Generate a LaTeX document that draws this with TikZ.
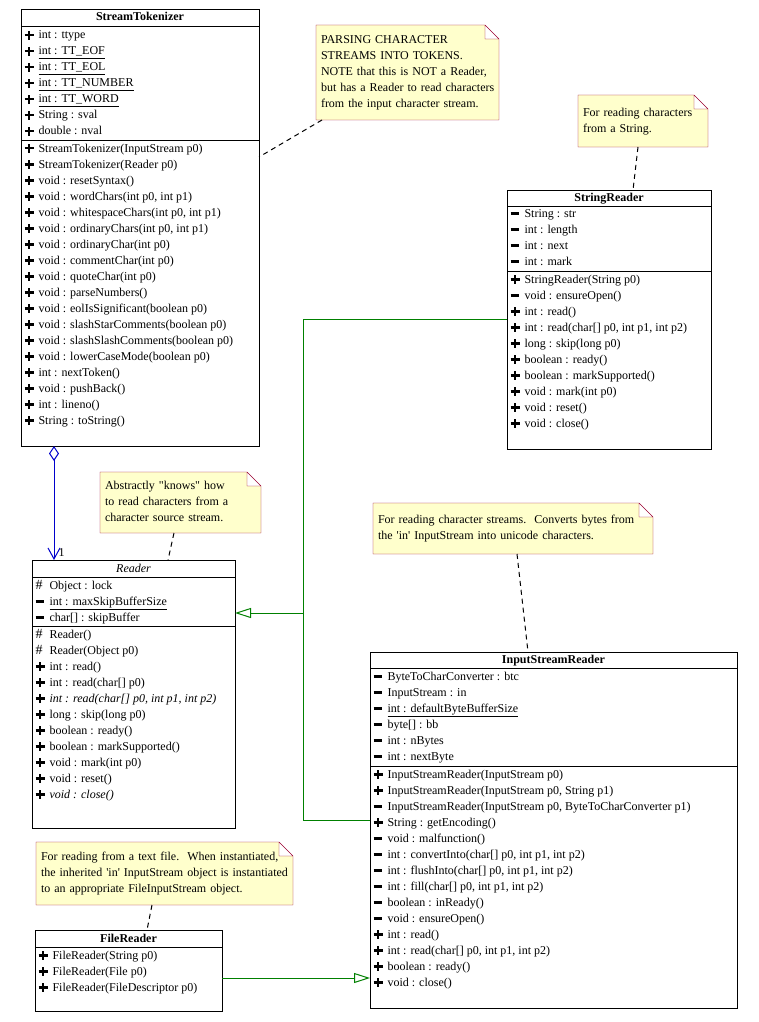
\documentclass[tikz,border=0pt]{standalone}
\usepackage{fontspec}
\setmainfont{Liberation Serif}
\usetikzlibrary{arrows.meta,backgrounds}
\definecolor{notefill}{RGB}{255,255,204}
\definecolor{noteline}{RGB}{153,0,51}
\definecolor{genline}{RGB}{0,128,0}
\definecolor{aggline}{RGB}{0,0,204}
% visibility marks
\newcommand\vpub{\makebox[14pt][l]{\rlap{\rule[2.5pt]{9pt}{2.2pt}}\hspace{3.4pt}\rule[-0.9pt]{2.2pt}{9pt}}}
\newcommand\vpriv{\makebox[14pt][l]{\rule[2.5pt]{8pt}{2.2pt}}}
\newcommand\vprot{\makebox[14pt][l]{\fontsize{14}{16}\selectfont\#}}
\newcommand\notelines[1]{\begin{tabular}{@{}l@{}}#1\end{tabular}}
\begin{document}
\begin{tikzpicture}[x=1pt, y=-1pt, line width=1pt, font=\fontsize{12}{16}\selectfont,
    cls/.style={draw, anchor=north west, inner sep=0, outer sep=0},
    title/.style={inner sep=0, text height=9pt, text depth=3pt, font=\fontsize{12}{16}\selectfont\bfseries},
    member/.style={anchor=west, inner sep=0, text height=9pt, text depth=3pt},
    note/.style={anchor=north west, inner xsep=5pt, inner ysep=0, outer sep=0, align=left},
    notebox/.style={draw=noteline, fill=notefill},
    link/.style={dash pattern=on 5pt off 4pt},
    inherit/.style={draw=genline},
    agg/.style={draw=aggline}]
  \useasboundingbox (0,0) rectangle (758,1022);

  % StreamTokenizer
  \node[cls, minimum width=238pt, minimum height=436pt] (tok) at (21,10) {};
  \node[title] at (tok.north |- 0,18) {StreamTokenizer};
  \foreach \y in {27,140} \draw (tok.west |- 0,\y) -- (tok.east |- 0,\y);
  \foreach \vis/\txt [count=\i from 0] in {pub/int : ttype, pub/\underline{int : TT\_EOF},
      pub/\underline{int : TT\_EOL}, pub/\underline{int : TT\_NUMBER}, pub/\underline{int : TT\_WORD},
      pub/String : sval, pub/double : nval}
    \node[member] at (24,{36+16*\i}) {\csname v\vis\endcsname\txt};
  \foreach \vis/\txt [count=\i from 0] in {pub/StreamTokenizer(InputStream p0), pub/StreamTokenizer(Reader p0),
      pub/void : resetSyntax(), pub/{void : wordChars(int p0, int p1)}, pub/{void : whitespaceChars(int p0, int p1)},
      pub/{void : ordinaryChars(int p0, int p1)}, pub/void : ordinaryChar(int p0), pub/void : commentChar(int p0),
      pub/void : quoteChar(int p0), pub/void : parseNumbers(), pub/void : eolIsSignificant(boolean p0),
      pub/void : slashStarComments(boolean p0), pub/void : slashSlashComments(boolean p0),
      pub/void : lowerCaseMode(boolean p0), pub/int : nextToken(), pub/void : pushBack(),
      pub/int : lineno(), pub/String : toString()}
    \node[member] at (24,{149+16*\i}) {\csname v\vis\endcsname\txt};

  % StringReader
  \node[cls, minimum width=204pt, minimum height=259pt] (sr) at (507,190) {};
  \node[title] at (sr.north |- 0,198) {StringReader};
  \foreach \y in {206,271} \draw (sr.west |- 0,\y) -- (sr.east |- 0,\y);
  \foreach \vis/\txt [count=\i from 0] in {priv/String : str, priv/int : length, priv/int : next, priv/int : mark}
    \node[member] at (510,{214+16*\i}) {\csname v\vis\endcsname\txt};
  \foreach \vis/\txt [count=\i from 0] in {pub/StringReader(String p0), priv/void : ensureOpen(), pub/int : read(),
      pub/{int : read(char[] p0, int p1, int p2)}, pub/long : skip(long p0), pub/boolean : ready(),
      pub/boolean : markSupported(), pub/void : mark(int p0), pub/void : reset(), pub/void : close()}
    \node[member] at (510,{280+16*\i}) {\csname v\vis\endcsname\txt};

  % Reader
  \node[cls, minimum width=203pt, minimum height=268pt] (rd) at (32,560) {};
  \node[title, font=\fontsize{12}{16}\selectfont\itshape] at (rd.north |- 0,569) {Reader};
  \foreach \y in {577,626} \draw (rd.west |- 0,\y) -- (rd.east |- 0,\y);
  \foreach \vis/\txt [count=\i from 0] in {prot/Object : lock, priv/\underline{int : maxSkipBufferSize},
      priv/char[] : skipBuffer}
    \node[member] at (35,{586+16*\i}) {\csname v\vis\endcsname\txt};
  \foreach \vis/\txt [count=\i from 0] in {prot/Reader(), prot/Reader(Object p0), pub/int : read(),
      pub/int : read(char[] p0), pub/{\textit{int : read(char[] p0, int p1, int p2)}}, pub/long : skip(long p0),
      pub/boolean : ready(), pub/boolean : markSupported(), pub/void : mark(int p0), pub/void : reset(),
      pub/\textit{void : close()}}
    \node[member] at (35,{635+16*\i}) {\csname v\vis\endcsname\txt};

  % InputStreamReader
  \node[cls, minimum width=367pt, minimum height=356pt] (isr) at (370,652) {};
  \node[title] at (isr.north |- 0,660) {InputStreamReader};
  \foreach \y in {668,766} \draw (isr.west |- 0,\y) -- (isr.east |- 0,\y);
  \foreach \vis/\txt [count=\i from 0] in {priv/ByteToCharConverter : btc, priv/InputStream : in,
      priv/\underline{int : defaultByteBufferSize}, priv/byte[] : bb, priv/int : nBytes, priv/int : nextByte}
    \node[member] at (373,{677+16*\i}) {\csname v\vis\endcsname\txt};
  \foreach \vis/\txt [count=\i from 0] in {pub/InputStreamReader(InputStream p0),
      pub/{InputStreamReader(InputStream p0, String p1)}, priv/{InputStreamReader(InputStream p0, ByteToCharConverter p1)},
      pub/String : getEncoding(), priv/void : malfunction(), priv/{int : convertInto(char[] p0, int p1, int p2)},
      priv/{int : flushInto(char[] p0, int p1, int p2)}, priv/{int : fill(char[] p0, int p1, int p2)},
      priv/boolean : inReady(), priv/void : ensureOpen(), pub/int : read(),
      pub/{int : read(char[] p0, int p1, int p2)}, pub/boolean : ready(), pub/void : close()}
    \node[member] at (373,{775+16*\i}) {\csname v\vis\endcsname\txt};

  % FileReader
  \node[cls, minimum width=187pt, minimum height=81pt] (fr) at (35,930) {};
  \node[title] at (fr.north |- 0,939) {FileReader};
  \draw (fr.west |- 0,947) -- (fr.east |- 0,947);
  \foreach \vis/\txt [count=\i from 0] in {pub/FileReader(String p0), pub/FileReader(File p0),
      pub/FileReader(FileDescriptor p0)}
    \node[member] at (38,{956+16*\i}) {\csname v\vis\endcsname\txt};

  % notes
  \node[note, text width=173pt, minimum height=95pt] (n1) at (316,25) {\notelines{PARSING CHARACTER\\
    STREAMS INTO TOKENS.\\ NOTE that this is NOT a Reader,\\ but has a Reader to read characters\\
    from the input character stream.}};
  \node[note, text width=120pt, minimum height=52pt] (n2) at (578,95) {\notelines{For reading characters\\ from a String.}};
  \node[note, text width=151pt, minimum height=61pt] (n3) at (100,472) {\notelines{Abstractly \textquotedbl knows\textquotedbl{} how\\
    to read characters from a\\ character source stream.}};
  \node[note, text width=270pt, minimum height=51pt] (n4) at (373,503) {\notelines{For reading character streams.\ \ Converts bytes from\\
    the \textquotesingle in\textquotesingle{} InputStream into unicode characters.}};
  \node[note, text width=247pt, minimum height=63pt] (n5) at (36,842) {\notelines{For reading from a text file.\ \ When instantiated,\\
    the inherited \textquotesingle in\textquotesingle{} InputStream object is instantiated\\
    to an appropriate FileInputStream object.}};
  \begin{scope}[on background layer]
    \foreach \n in {n1,n2,n3,n4,n5}
      \draw[notebox] (\n.south west) -- (\n.north west) -- ([xshift=-14pt]\n.north east)
        -- ([yshift=-14pt]\n.north east) -- (\n.south east) -- cycle
        ([xshift=-14pt]\n.north east) |- ([yshift=-14pt]\n.north east);
  \end{scope}

  % note links
  \draw[link] ([xshift=6pt]n1.south west) -- ([yshift=-147pt]tok.north east);
  \draw[link] ([xshift=60pt]n2.south west) -- ([xshift=126pt]sr.north west);
  \draw[link] ([xshift=74pt]n3.south west) -- ([xshift=136pt]rd.north west);
  \draw[link] ([xshift=144pt]n4.south west) -- ([xshift=158pt]isr.north west);
  \draw[link] ([xshift=116pt]n5.south west) -- ([xshift=112pt]fr.north west);

  % generalizations
  \coordinate (j) at (303,613);
  \draw[inherit] ([yshift=-129pt]sr.north west) -| (j);
  \draw[inherit] ([yshift=-168pt]isr.north west) -| (j);
  \draw[inherit, -{Triangle[open, length=16pt, width=10pt]}] (j) -- (j -| rd.east);
  \coordinate (fe) at ([yshift=-48pt]fr.north east);
  \draw[inherit, -{Triangle[open, length=16pt, width=10pt]}] (fe) -- (fe -| isr.west);

  % aggregation
  \draw[agg, {Diamond[open, length=15pt, width=10pt]}-{Straight Barb[length=11pt, width=12pt]}]
    ([xshift=33pt]tok.south west) -- ([xshift=22pt]rd.north west)
    node[at end, anchor=base west, inner sep=0, xshift=4pt, yshift=4pt] {1};
\end{tikzpicture}
\end{document}
